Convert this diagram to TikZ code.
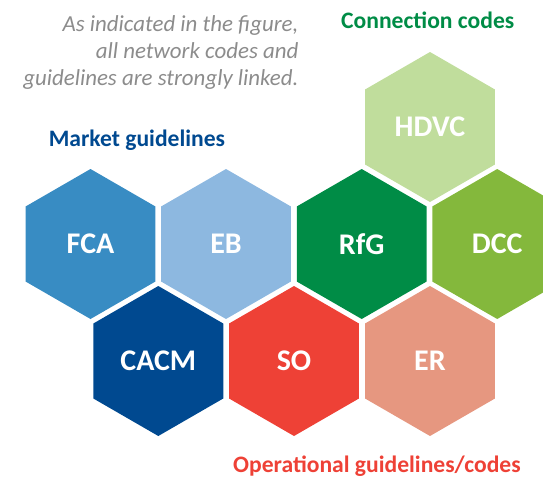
\documentclass[tikz,border=0pt]{standalone}
\usepackage{fontspec}
\setmainfont{Carlito}
\usetikzlibrary{shapes.geometric}
\definecolor{cFCA}{RGB}{56,140,195}
\definecolor{cEB}{RGB}{141,184,224}
\definecolor{cRfG}{RGB}{0,140,70}
\definecolor{cDCC}{RGB}{132,184,60}
\definecolor{cHDVC}{RGB}{192,221,156}
\definecolor{cCACM}{RGB}{0,73,144}
\definecolor{cSO}{RGB}{238,65,54}
\definecolor{cER}{RGB}{230,151,128}
\definecolor{cGray}{RGB}{140,140,140}
\begin{document}
\begin{tikzpicture}[x=1pt,y=-1pt,
  hexa/.style={regular polygon, regular polygon sides=6, shape border rotate=30,
    minimum size=150pt, inner sep=0pt, outer sep=0pt, fill=#1, text=white,
    font=\bfseries\fontsize{30}{30}\selectfont},
  note/.style={anchor=base east, text=cGray, inner sep=0pt,
    font=\itshape\fontsize{22.9}{26}\selectfont},
  head/.style={anchor=base west, inner sep=0pt, text=#1,
    font=\bfseries\fontsize{23.6}{26}\selectfont}]
\clip (0,0) rectangle (543,477);
\node[hexa=cHDVC] (hdvc) at (430,127) {HDVC};
\node[hexa=cFCA] (fca) at (90.5,244) {FCA};
\node[hexa=cEB] (eb) at (226,244) {EB};
\node[hexa=cRfG] (rfg) at (361.7,244) {RfG};
\node[hexa=cDCC] (dcc) at (497.2,244) {DCC};
\node[hexa=cCACM] (cacm) at (158.3,361) {CACM};
\node[hexa=cSO] (so) at (294,361) {SO};
\node[hexa=cER] (er) at (430,361) {ER};
\node[note] (n1) at (298.6,31) {As indicated in the figure,};
\node[note] (n2) at (298.6,58) {all network codes and};
\node[note] (n3) at (298.6,85) {guidelines are strongly linked.};
\node[head=cRfG] (conn) at (341,28) {Connection codes};
\node[head=cCACM] (mkt) at (48.6,146) {Market guidelines};
\node[head=cSO] (ops) at (233,472) {Operational guidelines/codes};
\end{tikzpicture}
\end{document}
